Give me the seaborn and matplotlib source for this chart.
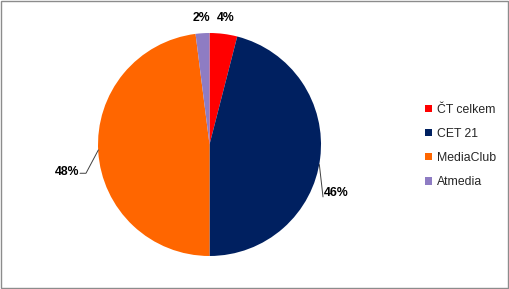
import matplotlib
matplotlib.use("Agg")
import matplotlib.pyplot as plt
import seaborn as sns
import numpy as np
from matplotlib.patches import Patch, Rectangle

sns.set_theme(style="white")
plt.rcParams['font.family'] = ['Liberation Sans', 'DejaVu Sans']

categories = ["ČT celkem", "CET 21", "MediaClub", "Atmedia"]
values = [4, 46, 48, 2]
colors = ["#FF0000", "#002060", "#FF6600", "#8E7CC3"]

fig = plt.figure(figsize=(5.09, 2.89), dpi=100)
ax = fig.add_axes([0, 0, 1, 1])
wedges, _ = ax.pie(values, colors=colors, startangle=90, counterclock=False,
                   radius=1.0, center=(0, 0),
                   wedgeprops=dict(linewidth=0))
ax.set_xlim(-1.879, 2.686)
ax.set_ylim(-1.296, 1.296)
ax.set_aspect("equal")
ax.axis("off")

# label layout: (angle in degrees, radius) for the text center
label_layout = {
    0: (None, 1.14),
    1: (-20.8, 1.22),
    2: (191.0, 1.30),
    3: (None, 1.14),
}
for i, w in enumerate(wedges):
    mid = (w.theta1 + w.theta2) / 2
    ang, r = label_layout[i]
    if ang is None:
        ang = mid
    x = r * np.cos(np.radians(ang))
    y = r * np.sin(np.radians(ang))
    ax.text(x, y, f"{values[i]}%", ha="center", va="center",
            fontsize=8.8, fontweight="bold", color="black")

# leader lines
ax.plot([0.985, 1.018], [-0.18, -0.47], color="#404040", lw=0.7)
ax.plot([-0.997, -1.108, -1.161], [-0.049, -0.258, -0.258], color="#404040", lw=0.7)

handles = [Patch(facecolor=c, edgecolor="none") for c in colors]
ax.legend(handles, categories, loc="center left", bbox_to_anchor=(0.826, 0.495),
          frameon=False, fontsize=8.8, handlelength=0.55, handleheight=0.55,
          handletextpad=0.4, labelspacing=1.0, borderaxespad=0)

fig.patches.append(Rectangle((0.001, 0.002), 0.997, 0.995, transform=fig.transFigure,
                             fill=False, edgecolor="#8c8c8c", linewidth=1))
fig.savefig("out.png", dpi=100)
